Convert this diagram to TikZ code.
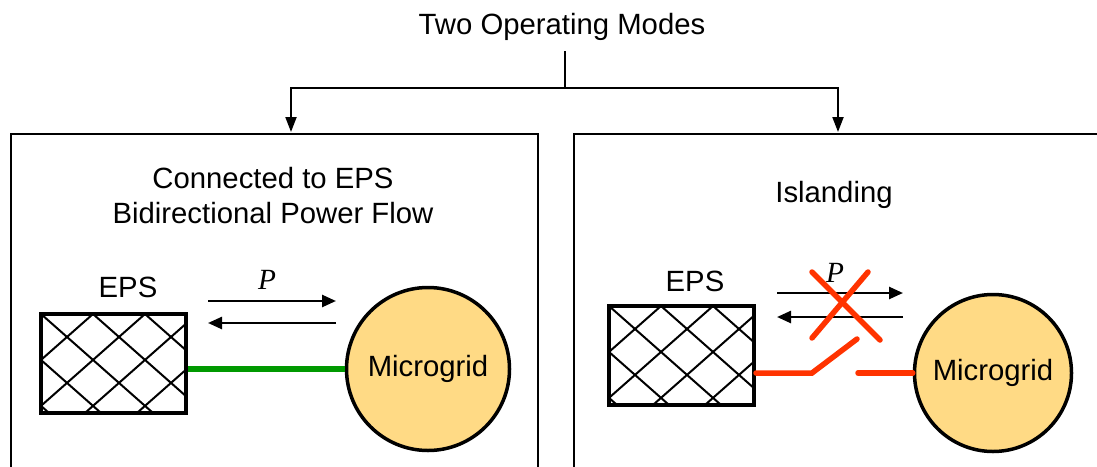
\documentclass[tikz,border=0pt]{standalone}
\usepackage{fontspec}
\setmainfont{Liberation Sans}
\newfontfamily\serifit{Liberation Serif}
\usetikzlibrary{arrows.meta}
\definecolor{mgfill}{RGB}{255,218,133}
\definecolor{linkgreen}{RGB}{0,153,0}
\definecolor{cutred}{RGB}{255,51,0}
\begin{document}
\begin{tikzpicture}[x=1pt,y=-1pt,
  txt/.style={font=\fontsize{29.3}{35}\selectfont, inner sep=0pt},
  modebox/.style={draw, line width=2pt, anchor=north west, inner sep=0pt},
  conn/.style={line width=2pt, -{Triangle[length=15pt,width=11pt]}},
  flow/.style={line width=2.5pt, -{Triangle[length=14pt,width=12pt]}},
  epsbox/.style={draw, line width=4pt, minimum width=145pt, minimum height=99pt, inner sep=0pt,
    path picture={\foreach \k in {-3,...,6}{
      \draw[line width=2pt] ([xshift=\k*52pt]path picture bounding box.north west) -- ++(120pt,-106pt);
      \draw[line width=2pt] ([xshift=\k*52pt]path picture bounding box.north west) -- ++(-120pt,-106pt);}}},
  mg/.style={circle, draw, line width=3.5pt, fill=mgfill, inner sep=0pt, font=\fontsize{29.3}{35}\selectfont},
  link/.style={line width=5.5pt, linkgreen},
  cut/.style={line width=5.5pt, cutred, line cap=round}
]
\useasboundingbox (0,0) rectangle (1097,466);

% title and branch connector
\node[txt, anchor=base] (title) at (562,34) {Two Operating Modes};
\coordinate (jt) at (565,51);
\coordinate (j) at (565,88);
\coordinate (la) at (291,132);
\coordinate (ra) at (838,132);
\draw[line width=2pt] (jt) -- (j);
\draw[conn] (j) -| (la);
\draw[conn] (j) -| (ra);

% mode boxes
\node[modebox, minimum width=527pt, minimum height=400pt] (leftbox) at (10,133) {};
\node[modebox, minimum width=560pt, minimum height=400pt] (rightbox) at (573,133) {};

% left: connected
\node[txt, anchor=base] (conn1) at (273,188) {Connected to EPS};
\node[txt, anchor=base] (conn2) at (273,223) {Bidirectional Power Flow};
\node[txt, anchor=base] (epsl1) at (128,297) {EPS};
\node[txt, anchor=base] (p1) at (267,289) {\serifit\itshape P};
\node[epsbox] (eps1) at (113.5,363.5) {};
\node[mg, minimum size=163pt] (mg1) at (428,369) {Microgrid};
\coordinate (f1a) at (208,301);
\coordinate (f1b) at (336,301);
\coordinate (f1c) at (336,323);
\coordinate (f1d) at (208,323);
\draw[flow] (f1a) -- (f1b);
\draw[flow] (f1c) -- (f1d);
\draw[link] (mg1.west -| eps1.east) -- (mg1.west);

% right: islanding
\node[txt, anchor=base] (isl) at (834,202) {Islanding};
\node[txt, anchor=base] (epsl2) at (695,291) {EPS};
\node[txt, anchor=base] (p2) at (835,282) {\serifit\itshape P};
\node[epsbox] (eps2) at (681.5,355.5) {};
\node[mg, minimum size=157pt] (mg2) at (993,373) {Microgrid};
\coordinate (f2a) at (777,293);
\coordinate (f2b) at (903,293);
\coordinate (f2c) at (903,317);
\coordinate (f2d) at (777,317);
\draw[flow] (f2a) -- (f2b);
\draw[flow] (f2c) -- (f2d);
\coordinate (x1) at (812,272);
\coordinate (x2) at (880,340);
\coordinate (x3) at (868,272);
\coordinate (x4) at (812,338);
\draw[cut] (x1) -- (x2);
\draw[cut] (x3) -- (x4);
\coordinate (s1) at (812,373);
\coordinate (s2) at (857,339);
\coordinate (s3) at (858,373);
\draw[cut] (mg2.west -| eps2.east) -- (s1) -- (s2);
\draw[cut] (s3) -- (mg2.west);
\end{tikzpicture}
\end{document}
